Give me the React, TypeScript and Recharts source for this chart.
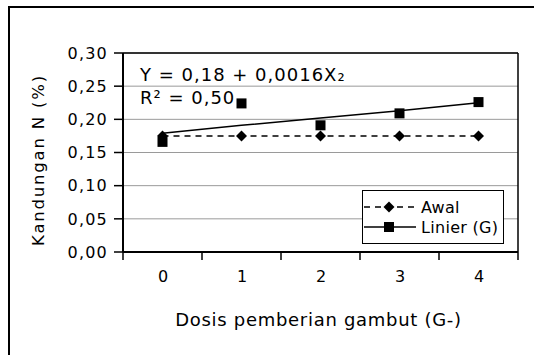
import {
  ComposedChart,
  CartesianGrid,
  Label,
  Line,
  ReferenceLine,
  XAxis,
  YAxis,
} from "recharts";

const categories = ["0", "1", "2", "3", "4"];
const awal = [0.175, 0.175, 0.175, 0.175, 0.175];
const linier = [0.166, 0.224, 0.191, 0.209, 0.226];
const trend = [0.179, 0.191, 0.202, 0.213, 0.225];
const yTicks = [0, 0.05, 0.1, 0.15, 0.2, 0.25, 0.3];

const series = [
  { key: "awal", name: "Awal", dashed: true, marker: "diamond" },
  { key: "linier", name: "Linier (G)", dashed: false, marker: "square" },
];

const data = categories.map((c, i) => ({
  x: i,
  awal: awal[i],
  linier: linier[i],
  trend: trend[i],
}));

// category boundaries, where Excel puts the tick marks
const xBounds = [...categories.map((_, i) => i - 0.5), categories.length - 0.5];

const W = 534;
const H = 355;
const margin = { top: 53, right: 16, bottom: 73, left: 0 };
const Y_AXIS_W = 123;
const BAND = (W - Y_AXIS_W - margin.right) / categories.length;

const font = "'DejaVu Sans', sans-serif";
const fmt = (v: number) => v.toFixed(2).replace(".", ",");

const Diamond = ({ cx, cy }: any) =>
  cx == null ? <g /> : (
    <path d={`M${cx},${cy - 5.5}L${cx + 5.5},${cy}L${cx},${cy + 5.5}L${cx - 5.5},${cy}Z`} fill="#000" />
  );

const Square = ({ cx, cy }: any) =>
  cx == null ? <g /> : <rect x={cx - 5} y={cy - 5} width={10} height={10} fill="#000" />;

const XTick = ({ x, y, payload }: any) => {
  const i = payload.value + 0.5;
  if (i >= categories.length) return <g />;
  return (
    <text x={x + BAND / 2 + 1} y={y} dy={19.5} textAnchor="middle" fill="#000" fontSize={16} style={{ letterSpacing: 1 }}>
      {categories[i]}
    </text>
  );
};

function LegendBox() {
  return (
    <div
      style={{
        position: "absolute",
        left: 362,
        top: 190,
        width: 142,
        height: 54,
        border: "1px solid #000",
        background: "#fff",
        boxSizing: "border-box",
        fontFamily: font,
        fontSize: 16,
      }}
    >
      {series.map((s, i) => (
        <div key={s.key} style={{ position: "absolute", left: 0, top: 6 + i * 20, height: 20, display: "flex", alignItems: "center" }}>
          <svg width={56} height={20}>
            <line x1={1} x2={53} y1={10} y2={10} stroke="#000" strokeWidth={1.5} strokeDasharray={s.dashed ? "6 5" : undefined} />
            {s.marker === "diamond" ? <Diamond cx={26} cy={10} /> : <Square cx={26} cy={10} />}
          </svg>
          <span style={{ marginLeft: 2, letterSpacing: 0.3 }}>{s.name}</span>
        </div>
      ))}
    </div>
  );
}

export default function App() {
  return (
    <div style={{ position: "fixed", left: 0, top: 0, width: W, height: H, overflow: "hidden", background: "#fff", fontFamily: font }}>
      <div style={{ position: "absolute", left: 8, top: 6, width: 600, height: 400, borderLeft: "2px solid #000", borderTop: "2px solid #000" }} />
      <div style={{ position: "absolute", left: 0, top: 0 }}>
        <ComposedChart width={W} height={H} data={data} margin={margin}>
          <CartesianGrid vertical={false} stroke="#9a9a9a" strokeWidth={1} />
          <XAxis
            type="number"
            dataKey="x"
            domain={[-0.5, categories.length - 0.5]}
            ticks={xBounds}
            interval={0}
            height={30}
            tickSize={8}
            axisLine={{ stroke: "#000", strokeWidth: 2 }}
            tickLine={{ stroke: "#000", strokeWidth: 1.5 }}
            tick={<XTick />}
          >
            <Label
              content={({ viewBox }: any) => (
                <text x={viewBox.x + viewBox.width / 2 - 2} y={326} textAnchor="middle" fill="#000" fontSize={18} style={{ letterSpacing: 0.7 }}>
                  Dosis pemberian gambut (G-)
                </text>
              )}
            />
          </XAxis>
          <YAxis
            type="number"
            domain={[0, 0.3]}
            ticks={yTicks}
            width={Y_AXIS_W}
            tickSize={9}
            tickMargin={6}
            tickFormatter={fmt}
            axisLine={{ stroke: "#000", strokeWidth: 2 }}
            tickLine={{ stroke: "#000", strokeWidth: 1.5 }}
            tick={{ fill: "#000", fontSize: 16, style: { letterSpacing: 1.2 } }}
          >
            <Label
              content={() => (
                <text x={43.5} y={160} transform="rotate(-90 43.5 160)" textAnchor="middle" fill="#000" fontSize={16.5} style={{ letterSpacing: 1.8 }}>
                  Kandungan N (%)
                </text>
              )}
            />
          </YAxis>
          <ReferenceLine y={0.3} stroke="#000" strokeWidth={1.5} />
          <ReferenceLine x={categories.length - 0.5} stroke="#000" strokeWidth={1.5} />
          <Line
            dataKey="trend"
            stroke="#000"
            strokeWidth={1.5}
            dot={false}
            activeDot={false}
            isAnimationActive={false}
            legendType="none"
          />
          <Line
            dataKey="awal"
            name="Awal"
            stroke="#000"
            strokeWidth={1.5}
            strokeDasharray="6 5"
            dot={<Diamond />}
            activeDot={false}
            isAnimationActive={false}
          />
          <Line
            dataKey="linier"
            name="Linier (G)"
            stroke="none"
            dot={<Square />}
            activeDot={false}
            isAnimationActive={false}
          />
        </ComposedChart>
      </div>
      <svg width={W} height={H} style={{ position: "absolute", left: 0, top: 0, pointerEvents: "none" }}>
        <text x={140} y={80.7} fontSize={18} fill="#000" style={{ letterSpacing: 1 }}>
          Y = 0,18 + 0,0016X₂
        </text>
        <text x={140} y={103.5} fontSize={18} fill="#000" style={{ letterSpacing: 1 }}>
          R² = 0,50
        </text>
      </svg>
      <LegendBox />
    </div>
  );
}
